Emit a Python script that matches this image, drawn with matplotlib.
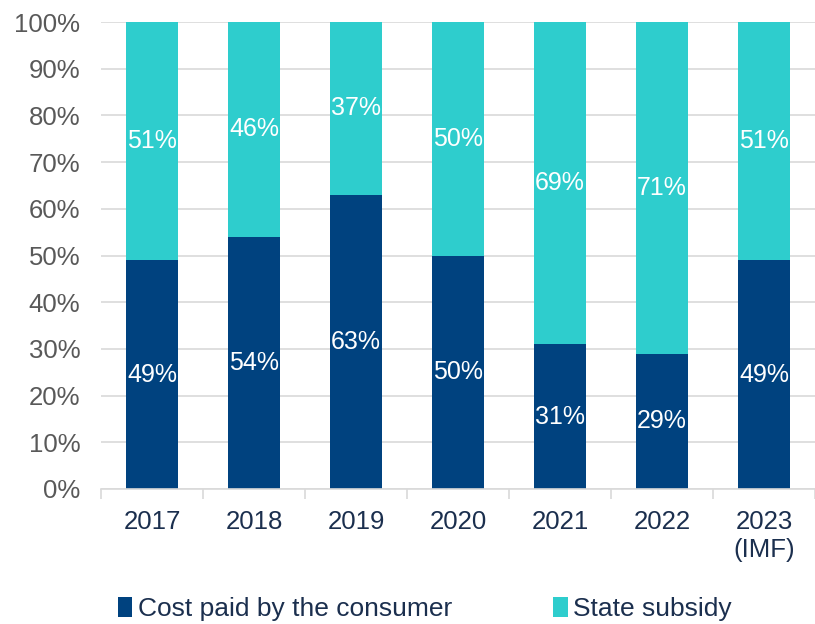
import matplotlib
matplotlib.use("Agg")
import matplotlib.pyplot as plt
from matplotlib.patches import Patch
import numpy as np

plt.rcParams['font.family'] = ['Liberation Sans', 'DejaVu Sans']

categories = ["2017", "2018", "2019", "2020", "2021", "2022", "2023\n(IMF)"]
consumer = [49, 54, 63, 50, 31, 29, 49]
subsidy = [51, 46, 37, 50, 69, 71, 51]
consumer_labels = ["49%", "54%", "63%", "50%", "31%", "29%", "49%"]
subsidy_labels = ["51%", "46%", "37%", "50%", "69%", "71%", "51%"]

navy = "#00427F"
teal = "#2ECDCD"

fig = plt.figure(figsize=(8.15, 6.24), dpi=100)
W, H = 815, 624
ax = fig.add_axes([101 / W, (624 - 489) / H, (W - 101) / W, 467 / H])

x = np.arange(len(categories))
bw = 0.51
ax.bar(x, consumer, width=bw, color=navy, zorder=2)
ax.bar(x, subsidy, width=bw, bottom=consumer, color=teal, zorder=2)

for xi, c, s, cl, sl in zip(x, consumer, subsidy, consumer_labels, subsidy_labels):
    ax.text(xi, c / 2, cl, ha='center', va='center', color='white', fontsize=18, zorder=3)
    ax.text(xi, c + s / 2, sl, ha='center', va='center', color='white', fontsize=18, zorder=3)

ax.set_ylim(0, 100)
ax.set_xlim(-0.5, -0.5 + (W - 101) / 102.6)
ax.set_yticks(np.arange(0, 101, 10))
ax.set_yticklabels([f"{v}%" for v in range(0, 101, 10)])
ax.yaxis.grid(True, color="#D9D9D9", linewidth=1.2, zorder=0)
ax.set_axisbelow(True)

ax.set_xticks(x)
ax.set_xticklabels(categories, linespacing=1.2)
ax.set_xticks(np.arange(-0.5, len(categories), 1.0), minor=True)
ax.tick_params(axis='x', which='major', length=0, pad=15, labelsize=18.5, labelcolor="#1B2F4E")
ax.tick_params(axis='x', which='minor', length=7, width=1.2, color="#D9D9D9")
ax.tick_params(axis='y', length=0, pad=15, labelsize=18.5, labelcolor="#595959")

for sp in ['top', 'right', 'left']:
    ax.spines[sp].set_visible(False)
ax.spines['bottom'].set_color("#D9D9D9")
ax.spines['bottom'].set_linewidth(1.2)

handles = [Patch(facecolor=navy, label="Cost paid by the consumer"),
           Patch(facecolor=teal, label="State subsidy")]
fig.legend(handles=handles, loc='center left', bbox_to_anchor=(94 / W, 1 - 609 / H),
           ncol=2, frameon=False, fontsize=19, handlelength=0.55, handleheight=0.8,
           handletextpad=0.2, columnspacing=3.85, labelcolor="#1B2F4E")

fig.savefig("out.png", dpi=100)
